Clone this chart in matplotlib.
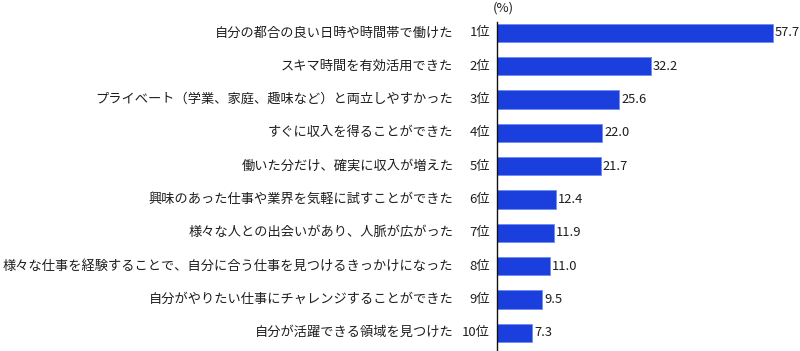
import matplotlib.pyplot as plt

plt.rcParams['font.family'] = ['Noto Sans CJK JP', 'DejaVu Sans']

# データ
categories = [
    "自分の都合の良い日時や時間帯で働けた",
    "スキマ時間を有効活用できた",
    "プライベート（学業、家庭、趣味など）と両立しやすかった",
    "すぐに収入を得ることができた",
    "働いた分だけ、確実に収入が増えた",
    "興味のあった仕事や業界を気軽に試すことができた",
    "様々な人との出会いがあり、人脈が広がった",
    "様々な仕事を経験することで、自分に合う仕事を見つけるきっかけになった",
    "自分がやりたい仕事にチャレンジすることができた",
    "自分が活躍できる領域を見つけた",
]
ranks = ["1位", "2位", "3位", "4位", "5位", "6位", "7位", "8位", "9位", "10位"]
values = [57.7, 32.2, 25.6, 22.0, 21.7, 12.4, 11.9, 11.0, 9.5, 7.3]

W, H = 800, 351
fig = plt.figure(figsize=(W / 100, H / 100), dpi=100)
ax = fig.add_axes([497 / W, 0, 1 - 497 / W, 1 - 22 / H])

y = list(range(len(values)))
ax.barh(y, values, height=0.55, color='#1a3fdc', edgecolor='#6f8cf0', linewidth=0.6)

ax.set_xlim(0, (W - 497) / 4.78)
ax.set_ylim(9.55, -0.33)

for sp in ['top', 'right', 'bottom']:
    ax.spines[sp].set_visible(False)
ax.spines['left'].set_linewidth(1.0)
ax.spines['left'].set_color('#111111')
ax.set_xticks([])
ax.set_yticks([])

for i, (c, r, v) in enumerate(zip(categories, ranks, values)):
    ax.annotate(r, xy=(0, i), xycoords=('axes fraction', 'data'),
                xytext=(-5, 0), textcoords='offset points',
                ha='right', va='center', fontsize=9.5, color='#1e1e1e')
    ax.annotate(c, xy=(0, i), xycoords=('axes fraction', 'data'),
                xytext=(-31.5, 0), textcoords='offset points',
                ha='right', va='center', fontsize=9.5, color='#1e1e1e')
    ax.annotate(f"{v:.1f}", xy=(v, i), xytext=(1.5, 0),
                textcoords='offset points', ha='left', va='center',
                fontsize=9.3, color='#1e1e1e')

fig.text(503 / W, 1 - 8 / H, "(%)", ha='center', va='center', fontsize=9.5, color='#1e1e1e')

fig.savefig('out.png', dpi=100)
